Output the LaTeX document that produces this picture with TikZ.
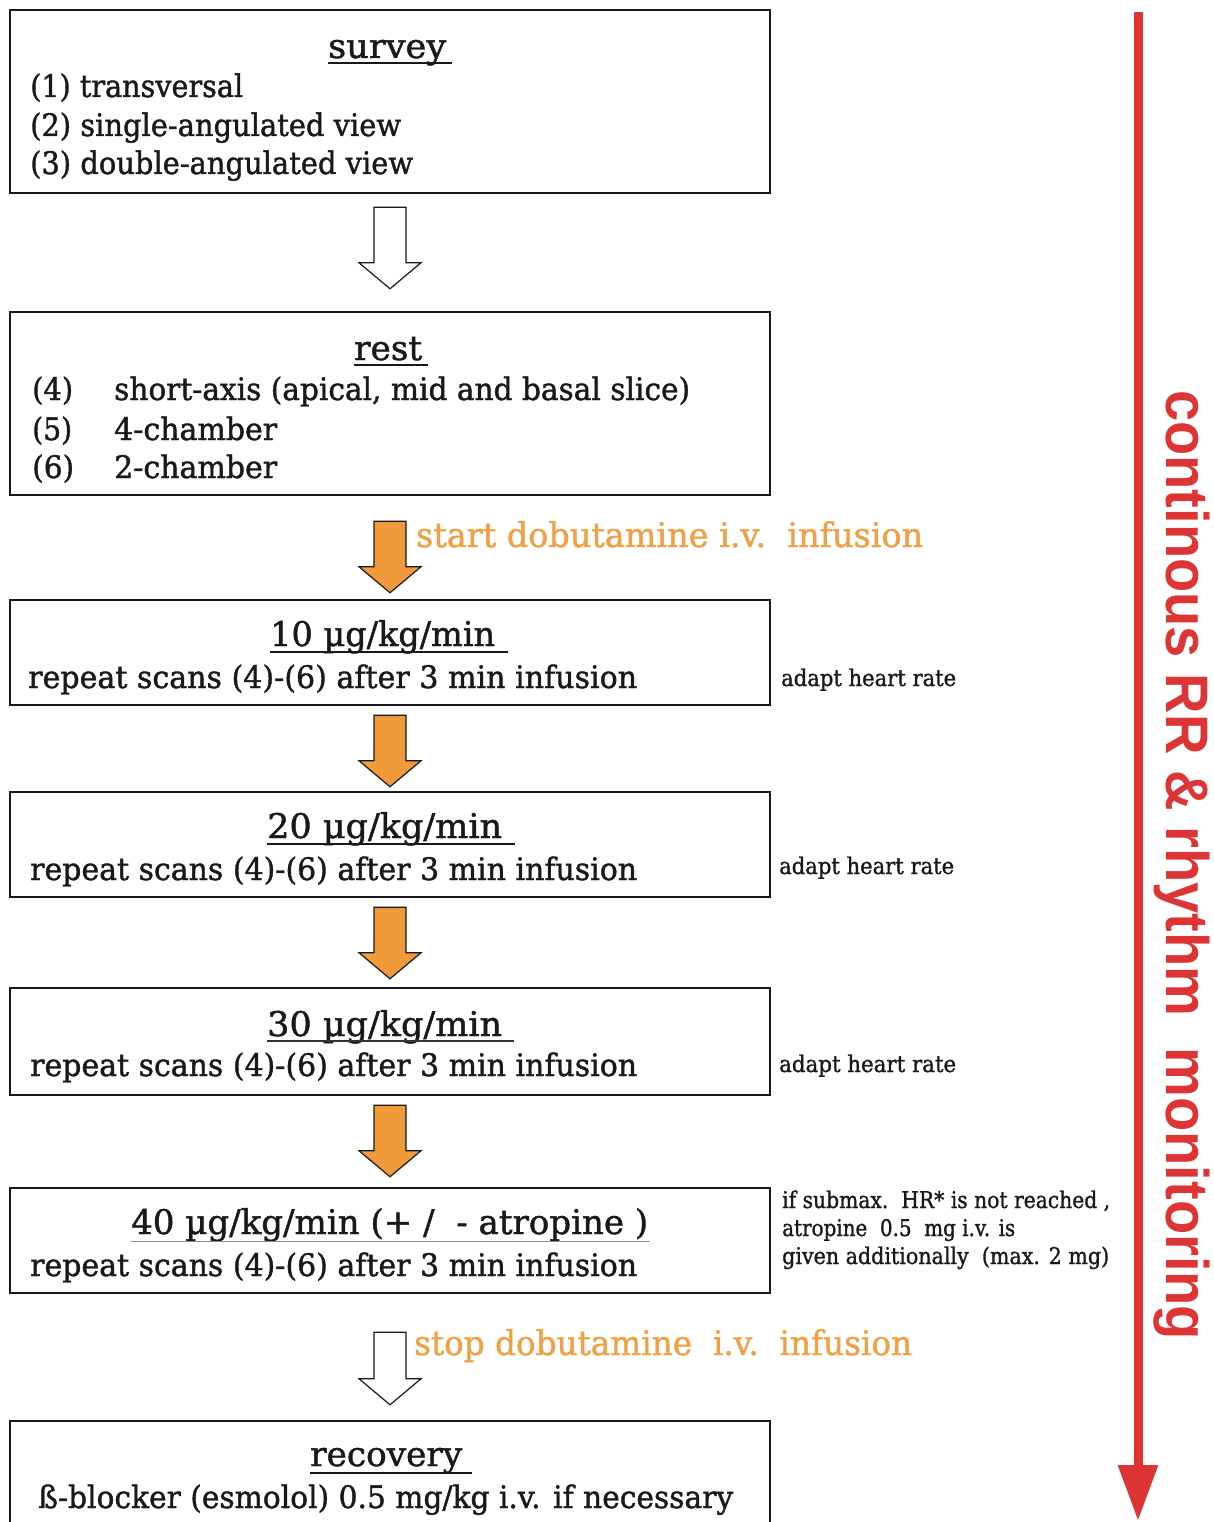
\documentclass[tikz,border=0pt]{standalone}
\usepackage{fontspec}
\usepackage{graphicx}
\setmainfont{DejaVu Serif}[FakeBold=1.3]
\newfontfamily\vsans{Liberation Sans}[BoldFont={Liberation Sans Bold}]
\usetikzlibrary{arrows.meta,calc}
\definecolor{dobo}{HTML}{F09A3C}
\definecolor{dobotxt}{HTML}{F0A045}
\definecolor{monred}{HTML}{DD3535}
\newlength\fitlen
\newcommand\fitx[2]{\settowidth{\fitlen}{#2}\pgfmathsetmacro\fitratio{#1/\fitlen}\scalebox{\fitratio}[1]{#2}}
\tikzset{
  stagebox/.style={draw=black!90, line width=2.5pt, minimum width=760pt, inner sep=0pt},
  body/.style={inner sep=0pt, anchor=base west, font=\fontsize{31}{36}\selectfont, text=black!90},
  title/.style={inner sep=0pt, anchor=base west, font=\fontsize{34}{40}\selectfont, text=black!90},
  side/.style={inner sep=0pt, anchor=base west, font=\fontsize{23}{26}\selectfont, text=black!90},
  dobolabel/.style={inner sep=0pt, anchor=base west, font=\fontsize{34}{40}\selectfont, text=dobotxt},
  uline/.style={line width=2.5pt, black!90},
  hollowarrow/.style={draw=black!90, line width=1.2pt, fill=white},
  orangearrow/.style={draw=black!90, line width=1.2pt, fill=dobo},
}
\newcommand\blockarrow[3]{%
  \draw[#1] let \p1=(#2), \p2=(#3) in
    (\x1-16pt,\y1) -- (\x1+16pt,\y1) -- (\x1+16pt,\y2+26pt) -- (\x1+31pt,\y2+26pt)
    -- (\x1,\y2) -- (\x1-31pt,\y2+26pt) -- (\x1-16pt,\y2+26pt) -- cycle;}
\begin{document}
\begin{tikzpicture}[x=1pt,y=-1pt]
\useasboundingbox (0,0) rectangle (1213,1522);
\begin{scope}
\clip (0,0) rectangle (1213,1522);
% boxes
\node[stagebox, minimum height=183pt] (survey) at (390,101.5) {};
\node[stagebox, minimum height=183pt] (rest) at (390,403.5) {};
\node[stagebox, minimum height=105pt] (d10) at (390,652.5) {};
\node[stagebox, minimum height=105pt] (d20) at (390,844.5) {};
\node[stagebox, minimum height=107pt] (d30) at (390,1041.5) {};
\node[stagebox, minimum height=105pt] (d40) at (390,1240.5) {};
\node[stagebox, minimum height=139pt] (rec) at (390,1490.5) {};

% survey text
\node[title] (tsurvey) at (328,58) {\fitx{118}{survey}};
\draw[uline] (328,63) -- (452,63);
\node[body] (s1) at (30,97) {\fitx{213}{(1) transversal}};
\node[body] (s2) at (30,136) {\fitx{371}{(2) single-angulated view}};
\node[body] (s3) at (30,174) {\fitx{383}{(3) double-angulated view}};

% rest text
\node[title] (trest) at (354,360) {\fitx{68}{rest}};
\draw[uline] (354,365) -- (428,365);
\node[body] (r4n) at (32,400) {\fitx{41}{(4)}};
\node[body] (r4) at (114,400) {\fitx{576}{short-axis (apical, mid and basal slice)}};
\node[body] (r5n) at (32,440) {\fitx{40}{(5)}};
\node[body] (r5) at (114,440) {\fitx{163}{4-chamber}};
\node[body] (r6n) at (32,478) {\fitx{42}{(6)}};
\node[body] (r6) at (114,478) {\fitx{163}{2-chamber}};

% 10
\node[title] (t10) at (270,646) {\fitx{225}{10 µg/kg/min}};
\draw[uline] (270,652) -- (508,652);
\node[body] (l10) at (28,688) {\fitx{609}{repeat scans (4)-(6) after 3 min infusion}};
\node[side] (h10) at (781,686) {\fitx{175}{adapt heart rate}};

% 20
\node[title] (t20) at (267,838) {\fitx{235}{20 µg/kg/min}};
\draw[uline] (267,844) -- (515,844);
\node[body] (l20) at (30,880) {\fitx{607}{repeat scans (4)-(6) after 3 min infusion}};
\node[side] (h20) at (779,874) {\fitx{175}{adapt heart rate}};

% 30
\node[title] (t30) at (267,1036) {\fitx{235}{30 µg/kg/min}};
\draw[line width=1.5pt, black!80] (267,1041) -- (514,1041);
\node[body] (l30) at (30,1076) {\fitx{607}{repeat scans (4)-(6) after 3 min infusion}};
\node[side] (h30) at (779,1072) {\fitx{177}{adapt heart rate}};

% 40
\node[title] (t40) at (131,1234) {\fitx{517}{40 µg/kg/min (+ /\ \ - atropine )}};
\draw[line width=1pt, black!45] (131,1241) -- (650,1241);
\node[body] (l40) at (30,1276) {\fitx{607}{repeat scans (4)-(6) after 3 min infusion}};
\node[side] (a1) at (782,1208) {\fitx{328}{if submax.\ \ HR* is not reached ,}};
\node[side] (a2) at (782,1236) {\fitx{233}{atropine\ \ 0.5\ \ mg i.v. is}};
\node[side] (a3) at (782,1264) {\fitx{327}{given additionally\ \ (max. 2 mg)}};

% recovery
\node[title] (trec) at (310,1466) {\fitx{152}{recovery}};
\draw[uline] (310,1473) -- (472,1473);
\node[body] (lrec) at (38,1508) {\fitx{695}{ß-blocker (esmolol) 0.5 mg/kg i.v. if necessary}};

% dobutamine labels
\node[dobolabel] (start) at (416,547) {\fitx{507}{start dobutamine i.v.\ \ infusion}};
\node[dobolabel] (stop) at (414,1355) {\fitx{498}{stop dobutamine\ \ i.v.\ \ infusion}};

% block arrows
\coordinate (ar1s) at ($(survey.south)+(0,13)$);
\coordinate (ar1e) at ($(rest.north)+(0,-22)$);
\coordinate (ar2s) at ($(rest.south)+(0,25)$);
\coordinate (ar2e) at ($(d10.north)+(0,-6)$);
\coordinate (ar3s) at ($(d10.south)+(0,9)$);
\coordinate (ar3e) at ($(d20.north)+(0,-4)$);
\coordinate (ar4s) at ($(d20.south)+(0,9)$);
\coordinate (ar4e) at ($(d30.north)+(0,-8)$);
\coordinate (ar5s) at ($(d30.south)+(0,9)$);
\coordinate (ar5e) at ($(d40.north)+(0,-10)$);
\coordinate (ar6s) at ($(d40.south)+(0,38)$);
\coordinate (ar6e) at ($(rec.north)+(0,-15)$);
\blockarrow{hollowarrow}{ar1s}{ar1e}
\blockarrow{orangearrow}{ar2s}{ar2e}
\blockarrow{orangearrow}{ar3s}{ar3e}
\blockarrow{orangearrow}{ar4s}{ar4e}
\blockarrow{orangearrow}{ar5s}{ar5e}
\blockarrow{hollowarrow}{ar6s}{ar6e}

% monitoring arrow
\coordinate (mtop) at (1138,12);
\coordinate (mbot) at (1138,1521);
\draw[monred, line width=9pt, -{Triangle[length=56pt,width=38pt]}] (mtop) -- (mbot);
\node[inner sep=0pt, anchor=base west, rotate=-90, text=monred, font=\vsans\bfseries\fontsize{60}{70}\selectfont] (mon) at (1166,390) {\fitx{950}{continous RR \& rhythm\ \ monitoring}};
\end{scope}
\end{tikzpicture}
\end{document}
